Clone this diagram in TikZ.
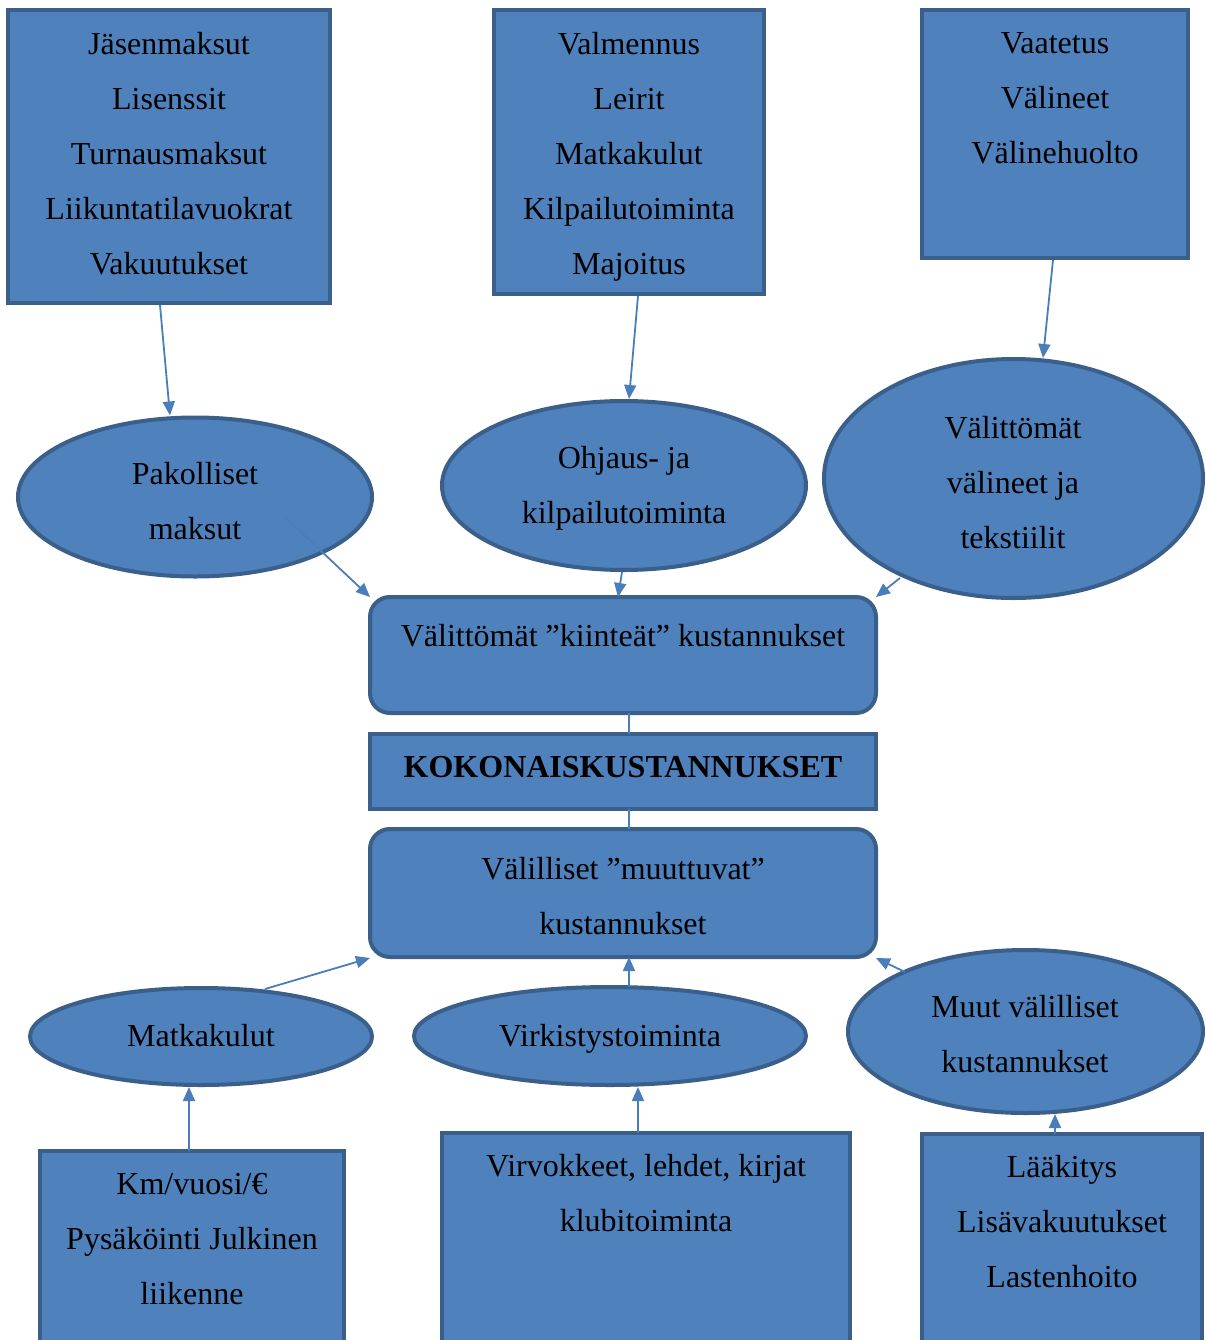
\documentclass[tikz,border=0pt]{standalone}
\usepackage{fontspec}
\setmainfont{Liberation Serif}
\usetikzlibrary{arrows.meta,shapes.geometric,calc}
\definecolor{fillblue}{HTML}{4F81BD}
\definecolor{edgeblue}{HTML}{3A5F8B}
\definecolor{arrowblue}{HTML}{4A7EBB}
\begin{document}
\begin{tikzpicture}[x=0.5pt,y=-0.5pt,
  shp/.style={draw=edgeblue,fill=fillblue,line width=2pt,inner sep=0pt,outer sep=0pt},
  sqbox/.style={shp,rectangle},
  rbox/.style={shp,rectangle,rounded corners=10pt},
  oval/.style={shp,ellipse},
  txt/.style={inner sep=0pt,align=center,font=\fontsize{16}{27.5}\selectfont},
  conn/.style={draw=arrowblue,line width=0.9pt},
  arr/.style={conn,-{Triangle[length=7pt,width=6pt]}}]
\useasboundingbox (0,0) rectangle (1206,1340);
\clip (0,0) rectangle (1206,1340);
\fill[white] (0,0) rectangle (1206,1340);
% shapes
\node[sqbox,minimum width=161pt,minimum height=146.5pt] (b1) at (169,156.5) {};
\node[sqbox,minimum width=135pt,minimum height=142pt] (b2) at (629,152) {};
\node[sqbox,minimum width=133pt,minimum height=124pt] (b3) at (1055,134) {};
\node[oval,minimum width=177pt,minimum height=79.5pt] (e1) at (195,497) {};
\node[oval,minimum width=182pt,minimum height=84.5pt] (e2) at (624,485.5) {};
\node[oval,minimum width=189.5pt,minimum height=119.5pt] (e3) at (1013.5,478.5) {};
\node[rbox,minimum width=253pt,minimum height=58pt] (r1) at (623,655) {};
\node[sqbox,minimum width=253pt,minimum height=37.5pt] (k) at (623,771.5) {};
\node[rbox,minimum width=253pt,minimum height=64pt] (r2) at (623,893) {};
\node[oval,minimum width=171pt,minimum height=48.5pt] (e4) at (201,1036.5) {};
\node[oval,minimum width=196pt,minimum height=49pt] (e5) at (610,1036) {};
\node[oval,minimum width=177.5pt,minimum height=81.5pt] (e6) at (1025.5,1031.5) {};
\node[sqbox,minimum width=152pt,minimum height=99.5pt] (bb1) at (192,1250.5) {};
\node[sqbox,minimum width=204pt,minimum height=108.5pt] (bb2) at (646,1241.5) {};
\node[sqbox,minimum width=140pt,minimum height=108pt] (bb3) at (1062,1242) {};
% texts
\node[txt] (t1) at (169,153.5) {Jäsenmaksut\\Lisenssit\\Turnausmaksut\\Liikuntatilavuokrat\\Vakuutukset};
\node[txt] (t2) at (629,157) {Valmennus\\Leirit\\Matkakulut\\Kilpailutoiminta\\Majoitus};
\node[txt] (t3) at (1055,98.5) {Vaatetus\\Välineet\\Välinehuolto};
\node[txt] (te1) at (195,501.5) {Pakolliset\\maksut};
\node[txt] (te2) at (624,488.5) {Ohjaus- ja\\kilpailutoiminta};
\node[txt] (te3) at (1013,482.5) {Välittömät\\välineet ja\\tekstiilit};
\node[txt] (tr1) at (623,636) {Välittömät ”kiinteät” kustannukset};
\node[txt,font=\fontsize{16}{27.5}\selectfont\bfseries] (tk) at (623,767) {KOKONAISKUSTANNUKSET};
\node[txt] (tr2) at (623,896) {Välilliset ”muuttuvat”\\kustannukset};
\node[txt] (te4) at (201,1036) {Matkakulut};
\node[txt] (te5) at (610,1039) {Virkistystoiminta};
\node[txt] (te6) at (1025,1034) {Muut välilliset\\kustannukset};
\node[txt] (tb1) at (192,1239.5) {Km/vuosi/€\\Pysäköinti Julkinen\\liikenne};
\node[txt] (tb2) at (646,1193.5) {Virvokkeet, lehdet, kirjat\\klubitoiminta};
\node[txt] (tb3) at (1062,1222) {Lääkitys\\Lisävakuutukset\\Lastenhoito};
% connectors
\draw[arr] ($(b1.south)+(-9,2)$) -- ($(e1.north)+(-25,-2)$);
\draw[arr] ($(b2.south)+(9,2)$) -- ($(e2.north)+(5,-2)$);
\draw[arr] ($(b3.south)+(-2,2)$) -- ($(e3.north)+(29.5,-1)$);
\draw[arr] ($(e1.center)+(91,21)$) -- (r1.north west);
\draw[arr] ($(e2.south)+(-2,2)$) -- ($(r1.north)+(-5,0)$);
\draw[arr] ($(e3.center)+(-113.5,99.5)$) -- (r1.north east);
\draw[conn] ($(r1.south)+(6,0)$) -- ($(k.north)+(6,0)$);
\draw[conn] ($(k.south)+(6,0)$) -- ($(r2.north)+(6,0)$);
\draw[arr] ($(e4.north)+(64,1)$) -- ($(r2.south west)+(0,1)$);
\draw[arr] ($(e5.north)+(19,0)$) -- ($(r2.south)+(6,0)$);
\draw[arr] ($(e6.center)+(-120.5,-59.5)$) -- ($(r2.south east)+(0,1)$);
\draw[arr] ($(bb1.north)+(-3,0)$) -- ($(e4.south)+(-12,2)$);
\draw[arr] ($(bb2.north)+(-8,0)$) -- ($(e5.south)+(28,2)$);
\draw[arr] ($(bb3.north)+(-7,0)$) -- ($(e6.south)+(29.5,1)$);
\end{tikzpicture}
\end{document}
